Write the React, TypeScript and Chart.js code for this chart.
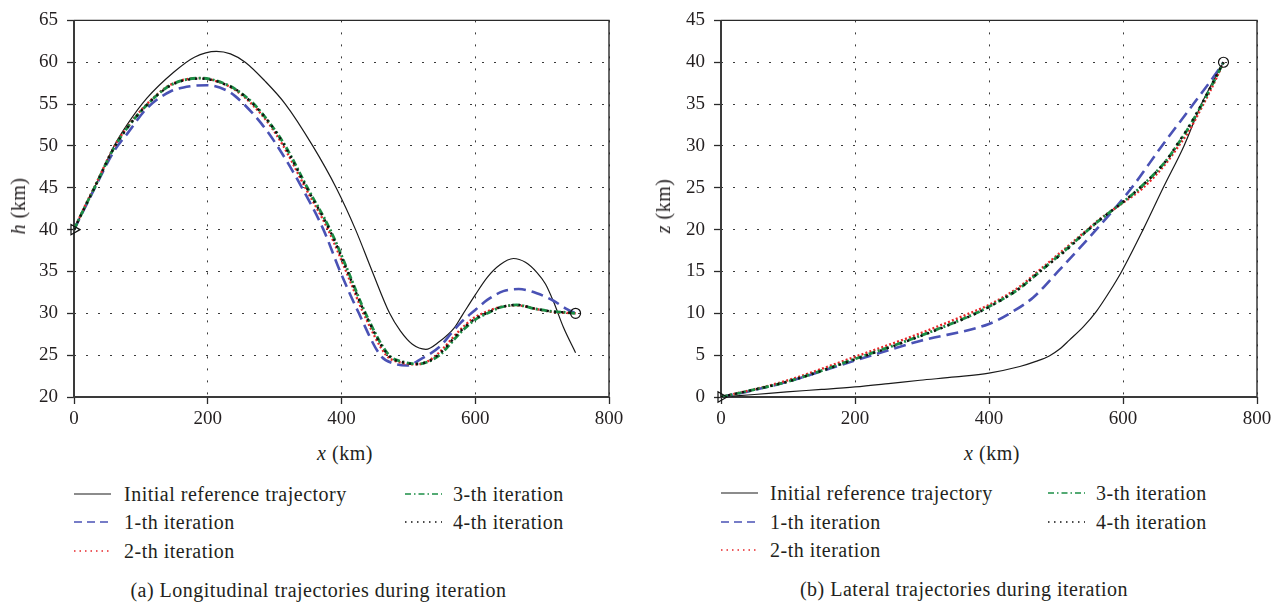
import React, { useEffect, useRef } from "react";
import { Chart, registerables } from "chart.js";

Chart.register(...registerables);

// ---------------- data ----------------
const seriesNames = [
  "Initial reference trajectory",
  "1-th iteration",
  "2-th iteration",
  "3-th iteration",
  "4-th iteration",
];

// (a) Longitudinal: h (km) versus x (km)
const lonInitX = [0, 15, 30, 60, 80, 109, 149, 180, 213, 234, 256, 285, 316, 357, 392, 421, 446, 472, 488, 506, 526, 546, 568, 580, 600, 618, 637, 657, 675, 692, 705, 717, 732, 750];
const lonInitH = [40, 42.5, 44.9, 50.0, 52.6, 55.7, 58.8, 60.6, 61.3, 61.0, 60.0, 57.8, 55, 50, 45, 40, 35, 30, 27.9, 26.3, 25.7, 26.6, 28.2, 29.7, 32.2, 34.3, 35.8, 36.55, 36.1, 34.9, 33.5, 31.4, 28.3, 25.3];

const lon1X = [0, 15, 30, 60, 80, 109, 144, 175, 199, 229, 241, 254, 280, 304, 341, 373, 398, 426, 458, 478, 498, 518, 548, 563, 578, 600, 618, 642, 665, 692, 717, 737, 750];
const lon1H = [40, 42.4, 44.8, 49.4, 51.5, 54.5, 56.5, 57.15, 57.25, 56.6, 55.95, 55.0, 52.7, 50, 45, 40, 35, 30, 25, 24.0, 23.76, 24.5, 26.1, 27.5, 28.85, 30.4, 31.6, 32.65, 32.9, 32.4, 31.5, 30.5, 30.0];

const lon2X = [0, 15, 30, 60, 80, 109, 144, 187, 230, 247, 266, 290, 313, 346, 380, 407, 433, 467, 489, 512, 530, 546, 576, 598, 617, 637, 662, 692, 717, 737, 750];
const lon2H = [40, 42.6, 45.0, 49.9, 52.3, 55.0, 57.3, 58.1, 57.2, 56.35, 55, 52.8, 50, 45, 40, 35, 30, 25, 24.1, 23.9, 24.3, 25.3, 27.9, 29.45, 30.2, 30.75, 30.95, 30.5, 30.15, 30.05, 30.0];

const lon3X = [0, 15, 30, 60, 80, 109, 144, 189, 232, 249, 269, 292, 316, 349, 383, 410, 436, 471, 492, 515, 532, 548, 578, 600, 618, 637, 662, 692, 717, 737, 750];
const lon3H = [40, 42.5, 44.9, 49.8, 52.2, 54.9, 57.25, 58.1, 57.2, 56.35, 55, 52.8, 50, 45, 40, 35, 30, 25, 24.2, 23.95, 24.3, 25.1, 27.7, 29.25, 30.0, 30.7, 31.0, 30.5, 30.2, 30.1, 30.0];

const lon4X = [0, 15, 30, 60, 80, 109, 144, 189, 231, 249, 268, 292, 315, 348, 382, 409, 435, 470, 491, 514, 531, 547, 577, 599, 618, 637, 662, 692, 717, 737, 750];
const lon4H = [40, 42.5, 44.9, 49.8, 52.2, 54.9, 57.2, 58.05, 57.2, 56.35, 55, 52.8, 50, 45, 40, 35, 30, 25, 24.15, 23.95, 24.3, 25.2, 27.8, 29.3, 30.05, 30.7, 31.0, 30.5, 30.2, 30.1, 30.0];

const lonMarkerX = [0, 750];
const lonMarkerH = [40, 30];

// (b) Lateral: z (km) versus x (km)
const latInitX = [0, 50, 98, 150, 200, 250, 297, 350, 400, 446, 470, 490, 505, 520, 541, 560, 580, 598, 630, 660, 691, 717, 735, 750];
const latInitZ = [0, 0.3, 0.62, 0.9, 1.2, 1.6, 2.0, 2.4, 2.86, 3.64, 4.25, 4.9, 5.7, 6.8, 8.4, 10.2, 12.6, 15.0, 20.0, 25.0, 30.0, 35.0, 37.8, 40];

const lat1X = [0, 48, 98, 200, 297, 400, 431, 466, 503, 560, 613, 658, 705, 740, 750];
const lat1Z = [0, 0.8, 1.8, 4.35, 6.7, 8.73, 10.0, 11.9, 15.0, 20.0, 25.0, 30.0, 35.0, 38.8, 40];

const lat2X = [0, 48, 98, 200, 297, 380, 400, 446, 476, 516, 547, 566, 600, 630, 665, 683, 697, 720, 740, 750];
const lat2Z = [0, 0.9, 1.95, 4.8, 7.6, 10.3, 11.0, 13.2, 15.2, 17.9, 20.0, 21.3, 23.2, 25.0, 28.0, 30.0, 31.6, 35.0, 38.2, 40];

const lat3X = [0, 48, 98, 200, 297, 380, 400, 446, 476, 516, 547, 566, 600, 628, 665, 680, 695, 718, 740, 750];
const lat3Z = [0, 0.85, 1.8, 4.55, 7.3, 10.0, 10.8, 13.0, 15.0, 17.7, 19.9, 21.2, 23.3, 25.2, 28.3, 30.0, 31.8, 35.0, 38.4, 40];

const lat4X = [0, 48, 98, 200, 297, 380, 400, 446, 476, 516, 547, 566, 600, 628, 665, 680, 695, 718, 740, 750];
const lat4Z = [0, 0.85, 1.8, 4.5, 7.25, 9.95, 10.75, 13.0, 15.0, 17.6, 19.9, 21.2, 23.3, 25.2, 28.3, 30.1, 31.9, 35.1, 38.5, 40];

const latMarkerX = [0, 750];
const latMarkerZ = [0, 40];

const captions = [
  "(a) Longitudinal trajectories during iteration",
  "(b) Lateral trajectories during iteration",
];

// ---------------- styles ----------------
const FONT = '"Liberation Serif", "Times New Roman", serif';
const INK = "#231f20";

const lineStyles = [
  { color: "#1a1a1a", width: 1.2, dash: [] as number[], order: 5 },
  { color: "#4a52b5", width: 2.6, dash: [12, 6], order: 4 },
  { color: "#e8262a", width: 2.4, dash: [2, 2.2], order: 3 },
  { color: "#1b8e45", width: 2.8, dash: [7, 2.5, 2, 2.5], order: 2 },
  { color: "#111111", width: 2.4, dash: [2.2, 5], order: 1 },
];
const legendDash = ["", "8 5", "1.5 4", "6 3 1.5 3", "1.5 4.5"];
const legendWidth = [1.1, 1.6, 1.5, 1.5, 1.3];

function pts(xs: number[], ys: number[]) {
  return xs.map((x, i) => ({ x, y: ys[i] }));
}

const framePlugin = {
  id: "frameBox",
  beforeDatasetsDraw(chart: any) {
    const { ctx, chartArea } = chart;
    const { left, right, top, bottom } = chartArea;
    ctx.save();
    ctx.setLineDash([]);
    ctx.strokeStyle = "#2a2a2a";
    ctx.lineWidth = 1.4;
    ctx.beginPath();
    ctx.moveTo(left, top);
    ctx.lineTo(right, top);
    ctx.lineTo(right, bottom);
    ctx.stroke();
    ctx.strokeStyle = "#3a3a3a";
    ctx.lineWidth = 2;
    ctx.beginPath();
    ctx.moveTo(left, top);
    ctx.lineTo(left, bottom);
    ctx.lineTo(right, bottom);
    ctx.stroke();
    ctx.restore();
  },
};

type Spec = {
  canvasLeft: number;
  canvasWidth: number;
  plotLeft: number;
  plotRight: number;
  series: { x: number[]; y: number[] }[];
  markerX: number[];
  markerY: number[];
  yMin: number;
  yMax: number;
};

const CANVAS_H = 440;
const PLOT_TOP = 14;
const PLOT_BOTTOM = 397;

const lonSpec: Spec = {
  canvasLeft: 0,
  canvasWidth: 640,
  plotLeft: 74,
  plotRight: 609,
  series: [
    { x: lonInitX, y: lonInitH },
    { x: lon1X, y: lon1H },
    { x: lon2X, y: lon2H },
    { x: lon3X, y: lon3H },
    { x: lon4X, y: lon4H },
  ],
  markerX: lonMarkerX,
  markerY: lonMarkerH,
  yMin: 20,
  yMax: 65,
};

const latSpec: Spec = {
  canvasLeft: 640,
  canvasWidth: 644,
  plotLeft: 81,
  plotRight: 617,
  series: [
    { x: latInitX, y: latInitZ },
    { x: lat1X, y: lat1Z },
    { x: lat2X, y: lat2Z },
    { x: lat3X, y: lat3Z },
    { x: lat4X, y: lat4Z },
  ],
  markerX: latMarkerX,
  markerY: latMarkerZ,
  yMin: 0,
  yMax: 45,
};

function ChartCanvas({ spec }: { spec: Spec }) {
  const ref = useRef<HTMLCanvasElement>(null);
  useEffect(() => {
    const canvas = ref.current;
    if (!canvas) return;
    const datasets: any[] = spec.series.map((s, i) => ({
      label: seriesNames[i],
      data: pts(s.x, s.y),
      borderColor: lineStyles[i].color,
      borderWidth: lineStyles[i].width,
      borderDash: lineStyles[i].dash,
      borderCapStyle: "butt",
      pointRadius: 0,
      fill: false,
      cubicInterpolationMode: "monotone",
      order: lineStyles[i].order,
    }));
    datasets.push({
      label: "start",
      data: [{ x: spec.markerX[0], y: spec.markerY[0] }],
      showLine: false,
      pointStyle: "triangle",
      rotation: 90,
      pointRadius: 6,
      pointBorderColor: "#111",
      pointBackgroundColor: "rgba(255,255,255,0)",
      pointBorderWidth: 1.2,
      clip: false,
      order: 0,
    });
    datasets.push({
      label: "end",
      data: [{ x: spec.markerX[1], y: spec.markerY[1] }],
      showLine: false,
      pointStyle: "circle",
      pointRadius: 5,
      pointBorderColor: "#111",
      pointBackgroundColor: "rgba(255,255,255,0)",
      pointBorderWidth: 1.2,
      clip: false,
      order: 0,
    });

    const tickFont = { family: FONT, size: 19 };
    const grid = {
      color: "#3a3a3a",
      lineWidth: 1,
      tickLength: 7,
      tickColor: "#2a2a2a",
      tickWidth: 1.3,
      tickBorderDash: [] as number[],
    };

    const chart = new Chart(canvas, {
      type: "line",
      data: { datasets },
      plugins: [framePlugin],
      options: {
        animation: false,
        responsive: false,
        events: [],
        layout: {
          padding: {
            left: 0,
            top: PLOT_TOP,
            right: spec.canvasWidth - spec.plotRight,
            bottom: 0,
          },
        },
        plugins: {
          legend: { display: false },
          tooltip: { enabled: false },
        },
        scales: {
          x: {
            type: "linear",
            min: 0,
            max: 800,
            ticks: { stepSize: 200, font: tickFont, color: INK, padding: 4, maxRotation: 0 },
            grid,
            border: { display: false, dash: [2, 10] },
            afterFit: (s: any) => {
              s.height = CANVAS_H - PLOT_BOTTOM;
            },
          },
          y: {
            type: "linear",
            min: spec.yMin,
            max: spec.yMax,
            ticks: { stepSize: 5, font: tickFont, color: INK, padding: 9 },
            grid,
            border: { display: false, dash: [2, 10] },
            afterFit: (s: any) => {
              s.width = spec.plotLeft;
            },
          },
        },
      } as any,
    });
    return () => chart.destroy();
  }, [spec]);
  return (
    <canvas
      ref={ref}
      width={spec.canvasWidth}
      height={CANVAS_H}
      style={{ position: "absolute", left: spec.canvasLeft, top: 0, width: spec.canvasWidth, height: CANVAS_H }}
    />
  );
}

const textStyle: React.CSSProperties = {
  position: "absolute",
  fontFamily: FONT,
  fontSize: 20,
  lineHeight: "24px",
  letterSpacing: "0.5px",
  color: INK,
  whiteSpace: "nowrap",
};

function Centered({ x, y, children, rotate }: { x: number; y: number; children: React.ReactNode; rotate?: boolean }) {
  return (
    <div
      style={{
        ...textStyle,
        left: x,
        top: y,
        transform: rotate ? "translate(-50%, -50%) rotate(-90deg)" : "translate(-50%, -50%)",
      }}
    >
      {children}
    </div>
  );
}

function LegendEntry({ idx, sx, y, tx }: { idx: number; sx: number; y: number; tx: number }) {
  return (
    <>
      <svg
        width={37}
        height={10}
        style={{ position: "absolute", left: sx, top: y - 5, overflow: "visible" }}
      >
        <line
          x1={0}
          y1={5}
          x2={37}
          y2={5}
          stroke={lineStyles[idx].color}
          strokeWidth={legendWidth[idx]}
          strokeDasharray={legendDash[idx] || undefined}
        />
      </svg>
      <div style={{ ...textStyle, left: tx, top: y - 12 }}>{seriesNames[idx]}</div>
    </>
  );
}

function Legend({ c1, c2, rows, off1, off2 }: { c1: number; c2: number; rows: number[]; off1: number; off2: number }) {
  return (
    <>
      <LegendEntry idx={0} sx={c1} y={rows[0]} tx={c1 + off1} />
      <LegendEntry idx={1} sx={c1} y={rows[1]} tx={c1 + off1} />
      <LegendEntry idx={2} sx={c1} y={rows[2]} tx={c1 + off1} />
      <LegendEntry idx={3} sx={c2} y={rows[0]} tx={c2 + off2} />
      <LegendEntry idx={4} sx={c2} y={rows[1]} tx={c2 + off2} />
    </>
  );
}

export default function App() {
  return (
    <div
      style={{
        position: "absolute",
        left: 0,
        top: 0,
        width: 1284,
        height: 606,
        background: "#ffffff",
        overflow: "hidden",
      }}
    >
      <ChartCanvas spec={lonSpec} />
      <ChartCanvas spec={latSpec} />

      {/* axis titles */}
      <Centered x={345} y={453}>
        <i>x</i> (km)
      </Centered>
      <Centered x={17.5} y={206} rotate>
        <i>h</i> (km)
      </Centered>
      <Centered x={992} y={453}>
        <i>x</i> (km)
      </Centered>
      <Centered x={663} y={206} rotate>
        <i>z</i> (km)
      </Centered>

      {/* legends */}
      <Legend c1={74} c2={405} rows={[494, 522, 551]} off1={50} off2={48} />
      <Legend c1={721} c2={1048} rows={[493, 521.5, 550]} off1={49} off2={48} />

      {/* captions */}
      <Centered x={318.5} y={590}>{captions[0]}</Centered>
      <Centered x={964} y={589}>{captions[1]}</Centered>
    </div>
  );
}
